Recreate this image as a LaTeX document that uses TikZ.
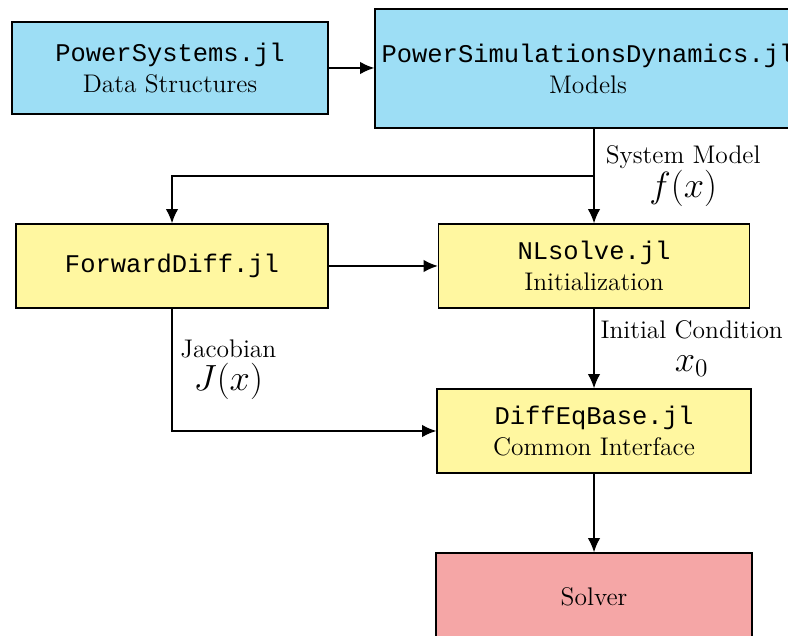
\documentclass[tikz,border=0pt]{standalone}
\usepackage{fontspec}
\setmonofont{Liberation Mono}
\usepackage{tikz}
\usetikzlibrary{arrows.meta, positioning, calc}
\definecolor{pkgblue}{RGB}{157,222,245}
\definecolor{pkgyellow}{RGB}{255,247,160}
\definecolor{pkgred}{RGB}{245,166,166}
\newcommand{\pkg}[1]{{\fontsize{14.5}{17.6}\selectfont\ttfamily #1}}
\newcommand{\bigmath}[1]{{\fontsize{20}{20}\selectfont $#1$}}

\begin{document}
\begin{tikzpicture}[>={Latex[length=8pt,width=7pt]}, line width=0.8pt,
    pkgbox/.style={draw, align=center, font=\fontsize{14.5}{17.6}\selectfont},
    lbl/.style={align=center, font=\fontsize{14.5}{19}\selectfont}]
    \useasboundingbox (0,0) rectangle (15.76,12.7);

    % Julia packages
    \node[pkgbox, fill=pkgblue, minimum width=6.32cm, minimum height=1.84cm] (psys) at (3.40,11.34) {\pkg{PowerSystems.jl}\\Data Structures};
    \node[pkgbox, fill=pkgblue, minimum width=8.52cm, minimum height=2.38cm] (psd) at (11.76,11.33) {\pkg{PowerSimulationsDynamics.jl}\\Models};
    \node[pkgbox, fill=pkgyellow, minimum width=6.24cm, minimum height=1.68cm] (fwd) at (3.44,7.38) {\pkg{ForwardDiff.jl}};
    \node[pkgbox, fill=pkgyellow, minimum width=6.22cm, minimum height=1.68cm] (nls) at (11.88,7.38) {\pkg{NLsolve.jl}\\Initialization};
    \node[pkgbox, fill=pkgyellow, minimum width=6.28cm, minimum height=1.68cm] (deb) at (11.88,4.08) {\pkg{DiffEqBase.jl}\\Common Interface};
    \node[pkgbox, fill=pkgred, minimum width=6.32cm, minimum height=1.76cm] (solver) at (11.88,0.76) {Solver};

    % connections
    \draw[->] (psys.east) -- (psys.east -| psd.west);
    \draw[->] (psd.south -| nls.north) -- node[lbl, right, xshift=3pt] {System Model\\ \bigmath{f(x)}} (nls.north);
    \coordinate (split) at ($(psd.south -| nls.north)!0.5!(nls.north)$);
    \draw[->] (split) -| (fwd.north);
    \draw[->] (fwd) -- (nls);
    \draw[->] (nls) -- node[lbl, right] {Initial Condition\\ \bigmath{x_0}} (deb);
    \draw[->] (fwd.south) |- node[lbl, pos=0.25, right, xshift=1pt] {Jacobian\\ \bigmath{J(x)}} (deb.west);
    \draw[->] (deb) -- (solver);
\end{tikzpicture}
\end{document}
